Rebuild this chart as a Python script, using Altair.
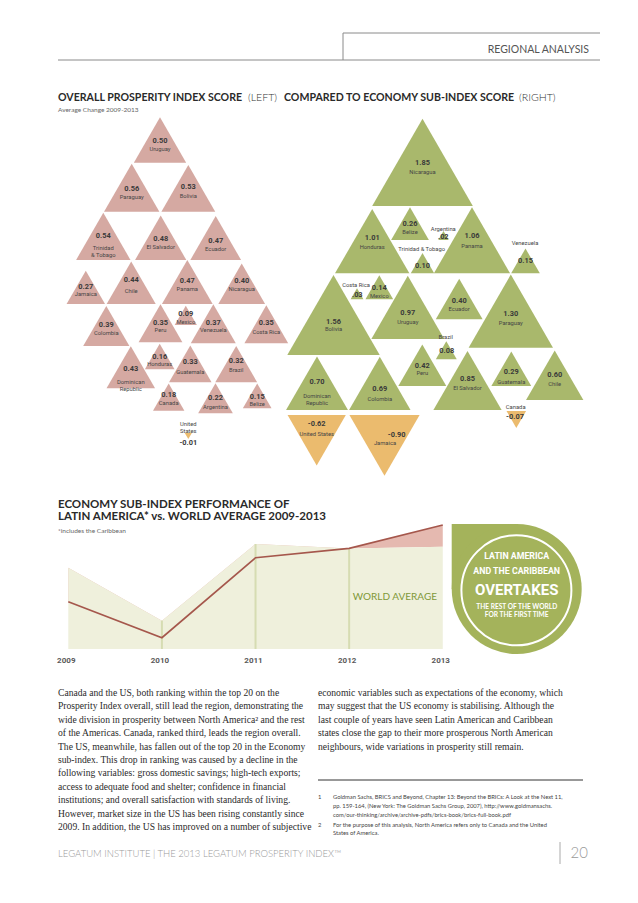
import altair as alt
import pandas as pd

# ---------------- data ----------------
left_countries = ["Uruguay", "Paraguay", "Bolivia", "Trinidad\n& Tobago", "El Salvador", "Ecuador",
                  "Jamaica", "Chile", "Panama", "Nicaragua", "Colombia", "Peru", "Mexico", "Venezuela",
                  "Costa Rica", "Dominican\nRepublic", "Honduras", "Guatemala", "Brazil", "Canada",
                  "Argentina", "Belize", "United\nStates"]
left_values = [0.50, 0.56, 0.53, 0.54, 0.48, 0.47, 0.27, 0.44, 0.47, 0.40, 0.39, 0.35, 0.09, 0.37,
               0.35, 0.43, 0.16, 0.33, 0.32, 0.18, 0.22, 0.15, -0.01]

right_countries = ["Nicaragua", "Belize", "Argentina", "Honduras", "Trinidad & Tobago", "Panama",
                   "Venezuela", "Bolivia", "Costa Rica", "Mexico", "Uruguay", "Ecuador", "Paraguay",
                   "Brazil", "Peru", "El Salvador", "Guatemala", "Chile", "Canada",
                   "Dominican\nRepublic", "Colombia", "United States", "Jamaica"]
right_values = [1.85, 0.26, 0.02, 1.01, 0.10, 1.06, 0.15, 1.56, 0.03, 0.14, 0.97, 0.40, 1.30,
                0.08, 0.42, 0.85, 0.29, 0.60, -0.07, 0.70, 0.69, -0.62, -0.90]

years = [2009, 2010, 2011, 2012, 2013]
world_average = [81.3, 28.3, 105.0, 100.5, 102.3]
latin_america = [47.3, 11.3, 91.3, 100.7, 124.0]

# ---------------- layout (page pixels) ----------------
left_cx = [160, 131.7, 188.3, 103.3, 160.7, 215.7, 85.8, 131.2, 187.3, 241.7, 106.3, 160.5, 185.8,
           213.3, 266.3, 130.8, 159.7, 190.3, 236.2, 168.7, 215.5, 257.2, 188.3]
left_cy = [140.0, 187.7, 188.3, 236.4, 237.8, 238.0, 287.3, 282.7, 282.0, 283.7, 326.0, 323.3, 315.4,
           323.8, 324.3, 367.3, 356.5, 363.9, 364.2, 397.1, 398.3, 395.9, 435.9]
left_vy = [141, 189.3, 186.7, 236, 239, 240.7, 286.7, 280, 281, 281, 325, 323.3, 314.3, 323.3, 323.3,
           369.3, 357.3, 361.7, 361, 395, 398.3, 397.3, 443.3]
left_ny = [149, 196.7, 196, 247.7, 247.3, 248.7, 294.3, 291, 289, 289, 332.7, 330, 321.7, 330, 332.3,
           381.7, 364.3, 371.7, 370, 402.7, 406.7, 404, 424]

right_cx = [422.5, 410, 443.5, 372.2, 422.5, 472, 525.5, 333.5, 357, 379.3, 407.8, 459.2, 510.8,
            446.3, 422.3, 467.5, 511.3, 554.7, 516.3, 317, 379.8, 316.7, 384.5]
right_cy = [162.4, 223.7, 235.5, 241.1, 263.2, 240.3, 260.9, 315, 293.8, 287.3, 307.4, 299, 311.1,
            350.2, 365.2, 380.5, 368.7, 375.2, 419.5, 383.2, 383.4, 440.2, 445.4]
right_vx = [422.5, 410, 443.3, 372.2, 422.5, 472, 525.5, 333.5, 357.3, 379.3, 407.8, 459.2, 510.8,
            446.7, 422.3, 467.5, 511.3, 554.7, 515, 317, 379.8, 316.7, 396.7]
right_vy = [162.7, 224, 237.3, 238.3, 265.7, 236, 261, 321.7, 295, 287.7, 312.7, 300.7, 314, 351,
            365.7, 379.3, 371.7, 375, 416.7, 381.7, 389, 424.3, 435]
right_nx = [422.5, 410, 443.3, 372.2, 421.7, 472, 525, 333.5, 356, 379.3, 407.8, 459.2, 510.8,
            445.7, 422.3, 467.5, 511.3, 554.7, 515.7, 317, 379.8, 316.7, 385]
right_ny = [172.3, 231.7, 229.3, 247.3, 249.3, 245.7, 242.7, 329, 285, 296, 322.3, 309, 323, 336.7,
            372.7, 387.7, 381.7, 383.7, 406.7, 395.7, 399, 434, 443.3]

PINK, GREEN, ORANGE = "#d5a9a2", "#a9b86c", "#ebbb6e"
BADGE = "#a4b35b"
NARROW = "Liberation Sans Narrow, Roboto, sans-serif"
SERIF = "Liberation Serif, DejaVu Serif, serif"


def fmt(v):
    s = f"{v:.2f}"
    if 0 < v < 0.05:
        s = s[1:]
    return s


rows = []
for i, (c, v) in enumerate(zip(left_countries, left_values)):
    rows.append(dict(name=c, value=v, mag=abs(v), dir="up" if v >= 0 else "down",
                     grp="left" if v >= 0 else "neg", label=fmt(v),
                     cx=left_cx[i], cy=left_cy[i], vx=left_cx[i], vy=left_vy[i],
                     nx=left_cx[i], ny=left_ny[i]))
for i, (c, v) in enumerate(zip(right_countries, right_values)):
    rows.append(dict(name=c, value=v, mag=abs(v), dir="up" if v >= 0 else "down",
                     grp="right" if v >= 0 else "neg", label=fmt(v),
                     cx=right_cx[i], cy=right_cy[i], vx=right_vx[i], vy=right_vy[i],
                     nx=right_nx[i], ny=right_ny[i]))
tri = pd.DataFrame(rows)

xs = alt.Scale(domain=[8, 630], nice=False, zero=False)
ys = alt.Scale(domain=[895, 8], nice=False, zero=False)


def PX(f):
    return alt.X(f, type="quantitative", scale=xs, axis=None)


def PY(f):
    return alt.Y(f, type="quantitative", scale=ys, axis=None)


def texts(items, **kw):
    df = pd.DataFrame(items, columns=["t", "x", "y"])
    kw.setdefault("baseline", "middle")
    return alt.Chart(df).mark_text(**kw).encode(x=PX("x"), y=PY("y"), text="t:N")


def rules(items, color, width=1):
    df = pd.DataFrame(items, columns=["x", "x2", "y", "y2"])
    return alt.Chart(df).mark_rule(color=color, strokeWidth=width).encode(
        x=PX("x"), x2="x2", y=PY("y"), y2="y2")


# triangles
triangles = alt.Chart(tri).mark_point(filled=True, opacity=1, strokeWidth=0).encode(
    x=PX("cx"), y=PY("cy"),
    size=alt.Size("mag:Q", scale=alt.Scale(domain=[0, 1.85], range=[0, 10130]), legend=None),
    shape=alt.Shape("dir:N", scale=alt.Scale(domain=["up", "down"],
                                             range=["triangle-up", "triangle-down"]), legend=None),
    color=alt.Color("grp:N", scale=alt.Scale(domain=["left", "right", "neg"],
                                             range=[PINK, GREEN, ORANGE]), legend=None),
)
tri_values = alt.Chart(tri).mark_text(font=NARROW, fontSize=7.4, fontWeight="bold", color="#3a3a3a",
                                      baseline="middle").encode(x=PX("vx"), y=PY("vy"), text="label:N")
tri_names = alt.Chart(tri).mark_text(font=NARROW, fontSize=5.8, color="#454545", baseline="middle",
                                     lineBreak="\n", lineHeight=7).encode(
    x=PX("nx"), y=PY("ny"), text="name:N")

# header
header_lines = rules([(343, 600, 33, 33), (343, 343, 33, 60), (58, 600, 60, 60)], "#8a8a8a")
header_text = texts([("REGIONAL ANALYSIS", 589, 50)], font="Lato", fontSize=10.5, color="#555555",
                    align="right")
title_bold = texts([("OVERALL PROSPERITY INDEX SCORE", 58, 98),
                    ("COMPARED TO ECONOMY SUB-INDEX SCORE", 284, 98)],
                   font="Lato", fontSize=10.6, fontWeight="bold", color="#2a2a2a", align="left")
title_light = texts([("(LEFT)", 248, 98), ("(RIGHT)", 519, 98)],
                    font="Lato", fontSize=10.6, fontWeight=300, color="#333333", align="left")
subtitle = texts([("Average Change 2009-2013", 58, 110)], font="Lato", fontSize=6.5,
                 color="#666666", align="left")

title2 = texts([("ECONOMY SUB-INDEX PERFORMANCE OF", 58, 505),
                ("LATIN AMERICA* vs. WORLD AVERAGE 2009-2013", 58, 517)],
               font="Lato", fontSize=11.5, fontWeight="bold", color="#2a2a2a", align="left")
subtitle2 = texts([("*includes the Caribbean", 58, 531)], font="Lato", fontSize=6.5,
                  color="#666666", align="left")
world_label = texts([("WORLD AVERAGE", 437, 597)], font="Lato", fontSize=10, color="#7f9838",
                    align="right")

# badge
badge_rect = alt.Chart(pd.DataFrame([dict(x=451.7, x2=516.7, y=524, y2=589)])).mark_rect(
    color=BADGE).encode(x=PX("x"), x2="x2", y=PY("y"), y2="y2")
badge_circle = alt.Chart(pd.DataFrame([dict(x=516.7, y=589)])).mark_point(
    shape="circle", filled=True, opacity=1, color=BADGE, size=16900, strokeWidth=0).encode(
    x=PX("x"), y=PY("y"))
badge_ring = alt.Chart(pd.DataFrame([dict(x=516.4, y=590.3)])).mark_point(
    shape="circle", filled=False, opacity=1, color="white", size=12100, strokeWidth=2).encode(
    x=PX("x"), y=PY("y"))
badge_t1 = texts([("LATIN AMERICA", 516.7, 555.5), ("AND THE CARIBBEAN", 516.7, 570.5)],
                 font=NARROW, fontSize=8.8, fontWeight="bold", color="white")
badge_t2 = texts([("OVERTAKES", 516.7, 590)], font=NARROW, fontSize=15, fontWeight="bold",
                 color="white")
badge_t3 = texts([("THE REST OF THE WORLD", 516.7, 606.7), ("FOR THE FIRST TIME", 516.7, 615)],
                 font="Lato", fontSize=6.6, fontWeight="bold", color="white")

# body text
left_col = [
    "Canada and the US, both ranking within the top 20 on the",
    "Prosperity Index overall, still lead the region, demonstrating the",
    "wide division in prosperity between North America\u00b2 and the rest",
    "of the Americas. Canada, ranked third, leads the region overall.",
    "The US, meanwhile, has fallen out of the top 20 in the Economy",
    "sub-index. This drop in ranking was caused by a decline in the",
    "following variables: gross domestic savings; high-tech exports;",
    "access to adequate food and shelter; confidence in financial",
    "institutions; and overall satisfaction with standards of living.",
    "However, market size in the US has been rising constantly since",
    "2009. In addition, the US has improved on a number of subjective",
]
right_col = [
    "economic variables such as expectations of the economy, which",
    "may suggest that the US economy is stabilising. Although the",
    "last couple of years have seen Latin American and Caribbean",
    "states close the gap to their more prosperous North American",
    "neighbours, wide variations in prosperity still remain.",
]
footnotes = [
    "Goldman Sachs, BRICS and Beyond, Chapter 13: Beyond the BRICs: A Look at the Next 11,",
    "pp. 159-164, (New York: The Goldman Sachs Group, 2007), http://www.goldmansachs.",
    "com/our-thinking/archive/archive-pdfs/brics-book/brics-full-book.pdf",
    "For the purpose of this analysis, North America refers only to Canada and the United",
    "States of America.",
]
body_l = texts([(s, 58, 693 + i * 13.4) for i, s in enumerate(left_col)],
               font=SERIF, fontSize=9.6, color="#2a2a2a", align="left")
body_r = texts([(s, 318, 693 + i * 13.4) for i, s in enumerate(right_col)],
               font=SERIF, fontSize=9.6, color="#2a2a2a", align="left")
fn_rule = rules([(318, 583, 780, 780)], "#333333")
fn_text = texts([(s, 333, y) for s, y in zip(footnotes, [797, 806, 815, 824.5, 833])],
                font="Lato", fontSize=5.8, color="#444444", align="left")
fn_nums = texts([("1", 318, 797), ("2", 318, 824.5)], font="Lato", fontSize=5.8,
                color="#444444", align="left")

footer = texts([("LEGATUM INSTITUTE | THE 2013 LEGATUM PROSPERITY INDEX\u2122", 58, 854)],
               font="Lato", fontSize=9.5, fontWeight=300, color="#9a9a9a", align="left")
page_no = texts([("20", 588, 853)], font="Lato", fontSize=15, fontWeight=300, color="#9a9a9a",
                align="right")
page_bar = rules([(560, 560, 842, 864)], "#aaaaaa")

pixel_group = alt.layer(
    header_lines, header_text, title_bold, title_light, subtitle,
    triangles, tri_values, tri_names,
    title2, subtitle2, world_label,
    badge_rect, badge_circle, badge_ring, badge_t1, badge_t2, badge_t3,
    body_l, body_r, fn_rule, fn_text, fn_nums, footer, page_no, page_bar,
)

# ---------------- line chart (world vs Latin America) ----------------
ldf = pd.DataFrame({"year": years, "world": world_average, "latam": latin_america})
# year scale placed so 2009 sits at page x 68.3 and 2013 at 443
lx = alt.Scale(domain=[2008.356, 2015.0], nice=False, zero=False)
# value scale: 0 at page y 649, one unit per pixel
ly = alt.Scale(domain=[-246, 641], nice=False, zero=False)
LX = alt.X("year:Q", scale=lx, axis=None)

pink_gap = alt.Chart(ldf).mark_area(color="#e5b9b0").encode(
    x=LX, y=alt.Y("latam:Q", scale=ly, axis=None), y2="world:Q")
world_area = alt.Chart(ldf).mark_area(color="#eff0dc").encode(
    x=LX, y=alt.Y("world:Q", scale=ly, axis=None), y2=alt.datum(0))
year_rules = alt.Chart(ldf).transform_filter("datum.year > 2009 && datum.year < 2013").mark_rule(
    color="#d6dcb2", strokeWidth=2).encode(x=LX, y=alt.Y("world:Q", scale=ly, axis=None),
                                           y2=alt.datum(0))
la_line = alt.Chart(ldf).mark_line(color="#a5574c", strokeWidth=1.7).encode(
    x=LX, y=alt.Y("latam:Q", scale=ly, axis=None))
year_labels = alt.Chart(ldf).mark_text(font=NARROW, fontSize=8, fontWeight="bold",
                                       color="#5a5a5a", baseline="middle", dx=-2).encode(
    x=LX, y=alt.value(653), text="year:N")

line_group = alt.layer(pink_gap, world_area, year_rules, la_line, year_labels)

chart = alt.layer(line_group, pixel_group).resolve_scale(
    x="independent", y="independent"
).properties(
    width=622, height=887, padding=0, autosize=alt.AutoSizeParams(type="none")
).configure_view(stroke=None)

chart.save("out.html", embed_options={"renderer": "svg", "actions": False})
